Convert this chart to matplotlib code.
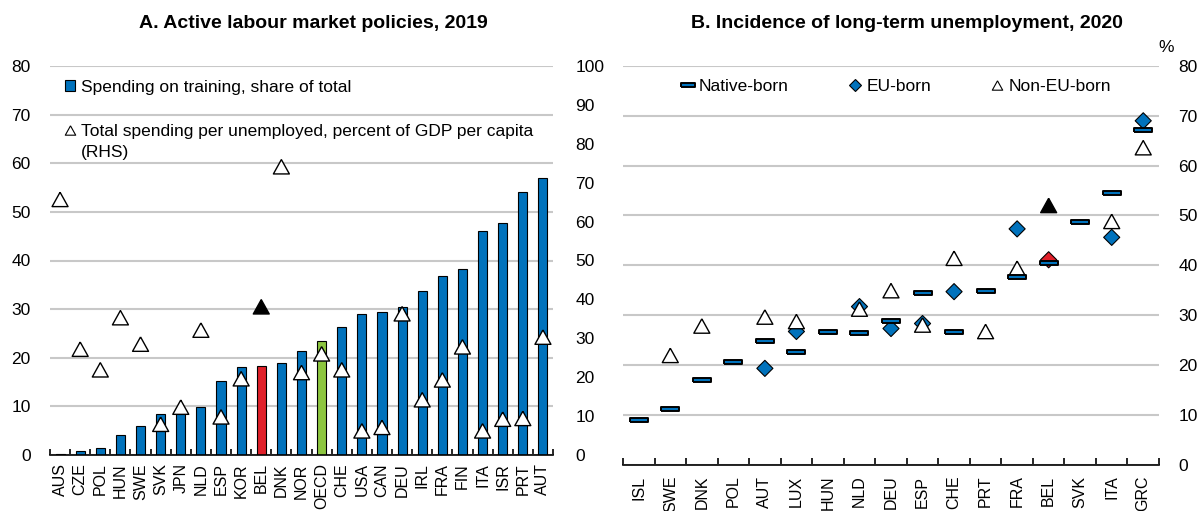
import numpy as np
import matplotlib
matplotlib.use('Agg')
import matplotlib.pyplot as plt
from matplotlib.patches import Patch
from matplotlib.lines import Line2D

plt.rcParams['font.family'] = ['Liberation Sans', 'DejaVu Sans']

# ---------------- Data ----------------
countries_a = ['AUS', 'CZE', 'POL', 'HUN', 'SWE', 'SVK', 'JPN', 'NLD', 'ESP', 'KOR',
               'BEL', 'DNK', 'NOR', 'OECD', 'CHE', 'USA', 'CAN', 'DEU', 'IRL', 'FRA',
               'FIN', 'ITA', 'ISR', 'PRT', 'AUT']
training_share = [0.3, 0.8, 1.4, 4.1, 6.0, 8.4, 8.5, 9.8, 15.3, 18.0,
                  18.4, 18.9, 21.4, 23.5, 26.3, 29.0, 29.4, 30.5, 33.8, 36.9,
                  38.3, 46.1, 47.7, 54.0, 56.9]
spending_per_unemployed = [65.7, 27.2, 21.9, 35.3, 28.5, 7.9, 12.3, 32.1, 9.8, 19.6,
                           38.1, 74.1, 21.2, 26.0, 21.9, 6.2, 7.1, 36.3, 14.2, 19.3,
                           27.8, 6.2, 9.2, 9.4, 30.3]

countries_b = ['ISL', 'SWE', 'DNK', 'POL', 'AUT', 'LUX', 'HUN', 'NLD', 'DEU', 'ESP',
               'CHE', 'PRT', 'FRA', 'BEL', 'SVK', 'ITA', 'GRC']
native_born = [8.9, 11.1, 17.0, 20.5, 24.7, 22.5, 26.5, 26.3, 28.8, 34.4,
               26.5, 34.9, 37.6, 40.4, 48.6, 54.5, 67.2]
eu_born = [np.nan, np.nan, np.nan, np.nan, 19.3, 26.7, np.nan, 31.7, 27.3, 28.3,
           34.7, np.nan, 47.3, 41.1, np.nan, 45.6, 69.0]
non_eu_born = [np.nan, 21.9, 27.8, np.nan, 29.6, 28.7, np.nan, 31.2, 34.9, 28.0,
               41.4, 26.7, 39.4, 52.0, np.nan, 48.8, 63.6]

# ---------------- Style ----------------
BLUE = '#0072BC'
RED = '#E0202A'
GREEN = '#8DC63F'
GRID = '#C8C8C8'
FS = 12.5

W, H = 1203, 511
fig = plt.figure(figsize=(W / 100, H / 100), dpi=100)


def fx(px):
    return px / W


def fy(py):
    return 1 - py / H


tri = [(0, 0.9), (-1, -0.9), (1, -0.9), (0, 0.9)]
dash = [(-1, -0.25), (1, -0.25), (1, 0.25), (-1, 0.25), (-1, -0.25)]

# ---------------- Panel A ----------------
axA = fig.add_axes([fx(50), fy(455), fx(553) - fx(50), fy(66) - fy(455)])
xa = np.arange(len(countries_a))
bar_colors = [RED if c == 'BEL' else GREEN if c == 'OECD' else BLUE for c in countries_a]
axA.bar(xa, training_share, width=0.45, color=bar_colors, edgecolor='black',
        linewidth=0.8, zorder=2)
axA.set_xlim(-0.5, len(countries_a) - 0.5)
axA.set_ylim(0, 80)
axA.set_yticks(np.arange(0, 81, 10))
axA.yaxis.grid(True, color=GRID, linewidth=1.5)
axA.set_axisbelow(True)
for s in ['left', 'right', 'top']:
    axA.spines[s].set_visible(False)
axA.spines['bottom'].set_linewidth(1.2)
axA.tick_params(axis='y', length=0, pad=14, labelsize=FS)
axA.set_xticks(xa)
axA.set_xticklabels(countries_a, rotation=90, fontsize=11.5)
axA.tick_params(axis='x', which='major', length=0, pad=6)
axA.set_xticks(np.arange(-0.5, len(countries_a), 1), minor=True)
axA.tick_params(axis='x', which='minor', length=4, direction='in', width=1.2)

axA2 = axA.twinx()
axA2.set_ylim(0, 100)
axA2.set_yticks(np.arange(0, 101, 10))
axA2.tick_params(axis='y', length=0, pad=16, labelsize=FS)
for s in axA2.spines.values():
    s.set_visible(False)
tri_face_a = ['black' if c == 'BEL' else 'white' for c in countries_a]
axA2.scatter(xa, spending_per_unemployed, marker=tri, s=11.5 ** 2, c=tri_face_a,
             edgecolors='black', linewidths=1.0, zorder=3)

handles_a = [Patch(facecolor=BLUE, edgecolor='black', linewidth=0.8),
             Line2D([], [], marker=tri, linestyle='none', markersize=7.5,
                    markerfacecolor='white', markeredgecolor='black', markeredgewidth=0.8)]
labels_a = ['Spending on training, share of total',
            'Total spending per unemployed, percent of GDP per capita']
axA2.legend(handles_a, labels_a, loc='upper left', bbox_to_anchor=(fx(65), fy(80)),
            bbox_transform=fig.transFigure, frameon=False, fontsize=FS,
            handlelength=0.6, handleheight=0.6, handletextpad=0.35, labelspacing=1.68,
            borderpad=0, borderaxespad=0)
fig.text(fx(81), fy(153), '(RHS)', fontsize=FS, ha='left', va='center')

fig.text(fx(313), fy(23), 'A. Active labour market policies, 2019', fontsize=14,
         fontweight='bold', ha='center', va='center')

# ---------------- Panel B ----------------
axB = fig.add_axes([fx(623), fy(464.5), fx(1159) - fx(623), fy(66) - fy(464.5)])
xb = np.arange(len(countries_b))
axB.set_xlim(-0.5, len(countries_b) - 0.5)
axB.set_ylim(0, 80)
axB.yaxis.tick_right()
axB.set_yticks(np.arange(0, 81, 10))
axB.yaxis.grid(True, color=GRID, linewidth=1.5)
axB.set_axisbelow(True)
for s in ['left', 'right', 'top']:
    axB.spines[s].set_visible(False)
axB.spines['bottom'].set_linewidth(1.2)
axB.tick_params(axis='y', length=0, pad=14, labelsize=FS)
axB.set_xticks(xb)
axB.set_xticklabels(countries_b, rotation=90, fontsize=11.5)
axB.tick_params(axis='x', which='major', length=0, pad=8)
axB.set_xticks(np.arange(-0.5, len(countries_b), 1), minor=True)
axB.tick_params(axis='x', which='minor', length=5, direction='in', width=1.2)

eu_colors = [RED if c == 'BEL' else BLUE for c in countries_b]
non_eu_face = ['black' if c == 'BEL' else 'white' for c in countries_b]
axB.scatter(xb, eu_born, marker='D', s=8.2 ** 2, c=eu_colors, edgecolors='black',
            linewidths=0.8, zorder=3)
axB.scatter(xb, non_eu_born, marker=tri, s=11.5 ** 2, c=non_eu_face,
            edgecolors='black', linewidths=1.0, zorder=4)
axB.scatter(xb, native_born, marker=dash, s=12.5 ** 2, c=BLUE, edgecolors='black',
            linewidths=1.4, zorder=5)

handles_b = [Line2D([], [], marker=dash, linestyle='none', markersize=10,
                    markerfacecolor=BLUE, markeredgecolor='black', markeredgewidth=1.4),
             Line2D([], [], marker='D', linestyle='none', markersize=6.5,
                    markerfacecolor=BLUE, markeredgecolor='black', markeredgewidth=0.8),
             Line2D([], [], marker=tri, linestyle='none', markersize=7.5,
                    markerfacecolor='white', markeredgecolor='black', markeredgewidth=0.8)]
axB.legend(handles_b, ['Native-born', 'EU-born', 'Non-EU-born'], loc='upper left',
           bbox_to_anchor=(fx(680), fy(79)), bbox_transform=fig.transFigure, ncol=3,
           frameon=False, fontsize=FS, handlelength=0.9, handletextpad=0.2,
           columnspacing=3.35, borderpad=0, borderaxespad=0)

fig.text(fx(907), fy(23), 'B. Incidence of long-term unemployment, 2020', fontsize=14,
         fontweight='bold', ha='center', va='center')
fig.text(fx(1166), fy(47), '%', fontsize=FS, ha='center', va='center')

fig.savefig('out.png', dpi=100)
